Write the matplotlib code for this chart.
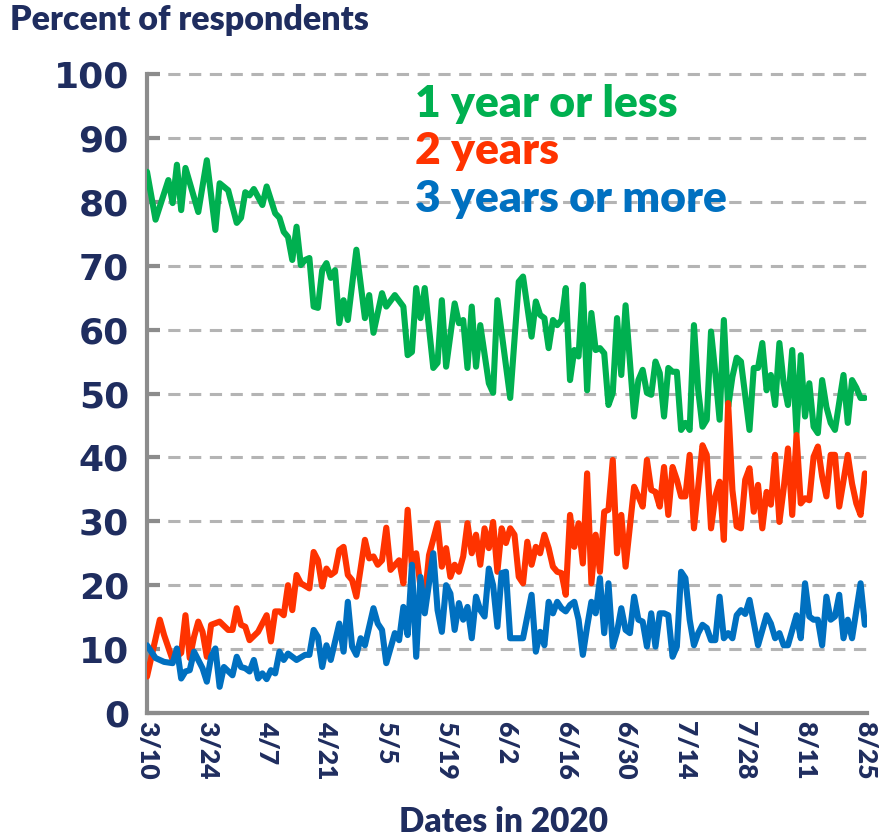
import matplotlib
matplotlib.use("Agg")
import matplotlib.pyplot as plt
import numpy as np

# ---- data (day offset from 3/10/2020, percent) ----
tick_labels = ["3/10", "3/24", "4/7", "4/21", "5/5", "5/19", "6/2", "6/16",
               "6/30", "7/14", "7/28", "8/11", "8/25"]
tick_days = [0, 14, 28, 42, 56, 70, 84, 98, 112, 126, 140, 154, 168]

green_days = [0, 2, 5, 6, 7, 8, 9, 12, 14, 16, 17, 19, 21, 22, 23, 24, 25, 27, 28, 30,
              31, 32, 33, 34, 35, 36, 37, 38, 39, 40, 41, 42, 43, 44, 45, 46, 47, 49, 51, 52,
              53, 55, 56, 58, 60, 61, 62, 63, 64, 65, 67, 68, 69, 70, 72, 73, 74, 75, 76, 77,
              78, 80, 81, 82, 85, 87, 88, 90, 91, 92, 93, 94, 95, 96, 97, 98, 99, 100, 101, 102,
              103, 104, 105, 106, 107, 108, 109, 110, 111, 112, 114, 115, 116, 117, 118, 119, 120, 121, 122, 123,
              124, 125, 126, 127, 128, 129, 130, 131, 132, 133, 134, 135, 136, 137, 138, 139, 141, 142, 143, 144,
              145, 146, 147, 148, 149, 150, 151, 152, 153, 154, 155, 156, 157, 158, 159, 160, 161, 163, 164, 165,
              166, 167, 168]
green_vals = [84.7, 77.2, 83.4, 79.8, 85.8, 78.7, 85.3, 78.4, 86.5, 75.6, 82.9, 81.8, 76.7, 77.5, 81.5, 81.0, 82.0, 79.5, 82.4, 78.2,
              77.5, 75.3, 74.5, 70.9, 76.1, 70.1, 70.9, 71.2, 63.6, 63.4, 69.3, 70.4, 68.1, 69.3, 61.0, 64.6, 61.5, 72.5, 61.8, 65.4,
              59.5, 65.7, 63.6, 65.4, 63.6, 56.0, 56.5, 66.5, 61.8, 66.5, 54.0, 54.8, 64.6, 54.2, 64.1, 61.0, 61.5, 54.0, 63.6, 54.2,
              60.7, 51.6, 50.1, 64.6, 49.3, 67.5, 68.3, 58.9, 64.4, 62.3, 61.8, 57.1, 61.5, 60.7, 61.5, 66.5, 52.1, 56.8, 55.8, 67.0,
              50.5, 62.6, 56.8, 57.1, 56.3, 48.2, 50.1, 61.8, 52.9, 63.8, 46.4, 52.1, 53.7, 50.1, 49.8, 55.0, 53.2, 46.4, 54.0, 53.4,
              53.4, 44.3, 45.4, 44.3, 60.7, 50.5, 44.8, 45.9, 59.7, 53.2, 45.9, 61.5, 47.9, 52.6, 55.6, 55.0, 44.3, 54.0, 54.0, 57.9,
              50.5, 52.9, 48.2, 57.9, 51.6, 48.2, 56.8, 43.8, 56.0, 46.4, 51.6, 44.8, 43.8, 52.1, 47.9, 45.4, 44.3, 52.9, 45.4, 52.1,
              50.9, 49.3, 49.3]

red_days = [0, 3, 4, 6, 8, 9, 10, 11, 12, 13, 14, 15, 17, 19, 20, 21, 22, 23, 24, 26,
            27, 28, 29, 30, 31, 32, 33, 34, 35, 36, 38, 39, 40, 41, 42, 43, 44, 45, 46, 47,
            48, 49, 51, 52, 53, 54, 55, 56, 57, 59, 60, 61, 62, 63, 64, 65, 66, 68, 69, 70,
            71, 72, 73, 74, 75, 76, 77, 78, 79, 80, 81, 82, 83, 84, 85, 86, 87, 88, 89, 90,
            91, 92, 93, 94, 95, 96, 97, 98, 99, 100, 101, 102, 103, 104, 105, 106, 107, 108, 109, 110,
            111, 112, 114, 115, 116, 117, 118, 119, 120, 121, 122, 123, 124, 125, 126, 127, 128, 129, 130, 131,
            132, 133, 134, 135, 136, 137, 138, 139, 140, 141, 142, 143, 144, 145, 146, 147, 148, 149, 150, 151,
            152, 153, 154, 155, 156, 157, 158, 159, 160, 161, 162, 164, 165, 166, 167, 168]
red_vals = [5.7, 14.6, 12.2, 8.3, 9.4, 15.3, 8.6, 11.9, 14.3, 12.7, 8.8, 13.8, 14.3, 13.0, 13.0, 16.4, 13.8, 13.5, 11.4, 12.7,
            14.0, 15.3, 11.2, 15.9, 15.9, 15.3, 20.0, 16.1, 21.6, 20.3, 19.5, 25.2, 23.9, 19.8, 22.6, 21.6, 22.1, 25.5, 26.0, 21.6,
            20.8, 18.2, 27.1, 24.2, 24.5, 23.2, 23.9, 29.0, 22.4, 23.9, 20.3, 31.8, 22.9, 25.0, 19.8, 17.9, 24.7, 29.7, 22.9, 25.8,
            21.3, 23.2, 22.1, 24.5, 29.7, 25.0, 27.9, 23.2, 28.9, 25.8, 29.9, 22.1, 28.9, 26.6, 28.9, 27.9, 21.3, 20.3, 26.8, 23.2,
            26.0, 25.0, 27.9, 25.8, 22.9, 22.1, 21.9, 18.5, 31.0, 26.0, 29.7, 23.4, 37.5, 20.3, 27.9, 22.1, 31.5, 31.8, 39.6, 25.0,
            31.0, 22.9, 35.4, 33.9, 32.3, 39.6, 34.9, 34.6, 32.3, 38.5, 31.0, 38.5, 36.5, 33.9, 33.9, 40.4, 28.9, 35.4, 41.9, 40.4,
            28.9, 33.9, 36.2, 27.1, 48.5, 34.9, 29.2, 28.9, 36.5, 38.3, 31.5, 35.7, 28.9, 34.6, 32.6, 40.4, 29.9, 35.1, 41.4, 31.0,
            43.5, 32.8, 33.6, 33.3, 40.1, 41.7, 37.0, 33.9, 40.4, 40.4, 32.3, 40.4, 35.9, 32.8, 31.0, 37.5]

blue_days = [0, 2, 4, 6, 7, 8, 9, 10, 11, 13, 14, 15, 16, 17, 18, 20, 21, 22, 23, 24,
             25, 26, 27, 28, 29, 30, 31, 32, 33, 35, 37, 38, 39, 40, 41, 42, 43, 45, 46, 47,
             48, 49, 50, 51, 53, 54, 55, 56, 58, 59, 60, 61, 62, 63, 64, 65, 67, 68, 69, 70,
             71, 72, 73, 74, 75, 76, 77, 78, 79, 80, 81, 82, 83, 84, 85, 87, 88, 90, 91, 92,
             93, 94, 95, 96, 97, 98, 99, 100, 101, 102, 103, 104, 105, 106, 107, 108, 109, 110, 111, 112,
             113, 114, 115, 116, 117, 118, 119, 120, 121, 122, 123, 124, 125, 126, 127, 128, 129, 130, 131, 132,
             133, 134, 135, 136, 137, 138, 139, 140, 141, 143, 145, 146, 147, 148, 149, 150, 152, 153, 154, 155,
             156, 157, 158, 159, 160, 161, 162, 163, 164, 165, 167, 168]
blue_vals = [10.6, 8.6, 8.0, 7.8, 10.1, 5.4, 6.5, 6.7, 9.6, 7.0, 4.9, 8.8, 10.1, 4.1, 7.2, 5.9, 8.8, 7.2, 7.0, 6.5,
             8.3, 5.4, 6.2, 5.3, 6.7, 6.2, 9.6, 8.3, 9.3, 8.3, 9.1, 9.1, 13.0, 11.9, 7.2, 10.6, 8.3, 14.0, 9.6, 17.4,
             10.4, 9.1, 11.7, 10.6, 16.4, 14.0, 13.0, 7.8, 12.5, 11.4, 16.6, 12.2, 23.2, 8.8, 21.3, 15.6, 25.0, 16.1, 12.7, 20.0,
             18.7, 13.0, 17.2, 14.6, 16.6, 11.7, 18.2, 16.1, 15.1, 22.6, 20.0, 13.5, 21.9, 22.1, 11.7, 11.7, 11.7, 18.5, 9.6, 12.7,
             10.6, 17.4, 15.6, 17.4, 16.4, 15.9, 16.9, 17.4, 14.6, 9.1, 13.5, 17.4, 15.6, 21.1, 12.5, 20.3, 10.4, 12.7, 16.4, 13.0,
             12.5, 18.2, 14.6, 14.3, 10.4, 15.6, 10.4, 15.6, 15.6, 15.3, 8.8, 10.4, 22.1, 21.1, 14.6, 10.6, 12.5, 13.8, 13.3, 11.4,
             11.4, 18.2, 11.7, 12.5, 11.7, 15.3, 16.1, 15.5, 17.7, 10.6, 15.3, 14.0, 11.7, 12.5, 10.6, 10.6, 15.3, 11.7, 20.3, 15.1,
             14.6, 14.6, 10.6, 18.2, 14.6, 15.1, 18.5, 11.7, 14.6, 11.7, 20.3, 13.8]

series_names = ["1 year or less", "2 years", "3 years or more"]
colors = ["#00B050", "#FF3300", "#0070C0"]
navy = "#1F2D5F"
FONT = ["Lato", "DejaVu Sans"]
WIDE = ["DejaVu Sans"]

plt.rcParams['font.family'] = FONT
fig = plt.figure(figsize=(8.92, 8.40), dpi=100)
ax = fig.add_axes([147/892, (840-713)/840, (867-147)/892, (713-74)/840])

for d, v, c in zip([green_days, red_days, blue_days], [green_vals, red_vals, blue_vals], colors):
    ax.plot(d, v, color=c, lw=4.4, solid_joinstyle='round', solid_capstyle='round', zorder=3)

ax.set_xlim(0, 168.5)
ax.set_ylim(0, 100)
ax.set_yticks(range(0, 101, 10))
ax.set_xticks(tick_days)
ax.set_xticklabels(tick_labels, rotation=-90)
for lab in ax.get_xticklabels():
    lab.set_fontweight('heavy')
    lab.set_color(navy)
    lab.set_fontsize(19)
for lab in ax.get_yticklabels():
    lab.set_family(WIDE)
    lab.set_fontweight('bold')
    lab.set_color(navy)
    lab.set_fontsize(26)

for y in range(10, 101, 10):
    ax.axhline(y, color="#B4B4B4", lw=2.2, ls=(0, (4, 2.8)), zorder=1, clip_on=False)

for s in ["top", "right"]:
    ax.spines[s].set_visible(False)
ax.spines["left"].set_color("#8C8C8C")
ax.spines["left"].set_linewidth(3)
ax.spines["bottom"].set_color("#8C8C8C")
ax.spines["bottom"].set_linewidth(3)
ax.tick_params(axis='y', direction='in', length=9, width=3, color="#8C8C8C", pad=13)
ax.tick_params(axis='x', direction='in', length=0, width=2, color="#8C8C8C", pad=6)

fig.text(10/892, 1 - 30/840, "Percent of respondents", fontsize=24.5, fontweight='heavy',
         color=navy, ha='left', va='baseline')
fig.text(504/892, 8/840, "Dates in 2020", fontsize=24, fontweight='heavy',
         color=navy, ha='center', va='baseline')

baselines = [117, 164, 212]
for name, c, b in zip(series_names, colors, baselines):
    ax.text(0.372, (713 - b) / 639, name, transform=ax.transAxes, fontsize=32,
            fontweight='heavy', color=c, ha='left', va='baseline')

fig.savefig("out.png", dpi=100)
